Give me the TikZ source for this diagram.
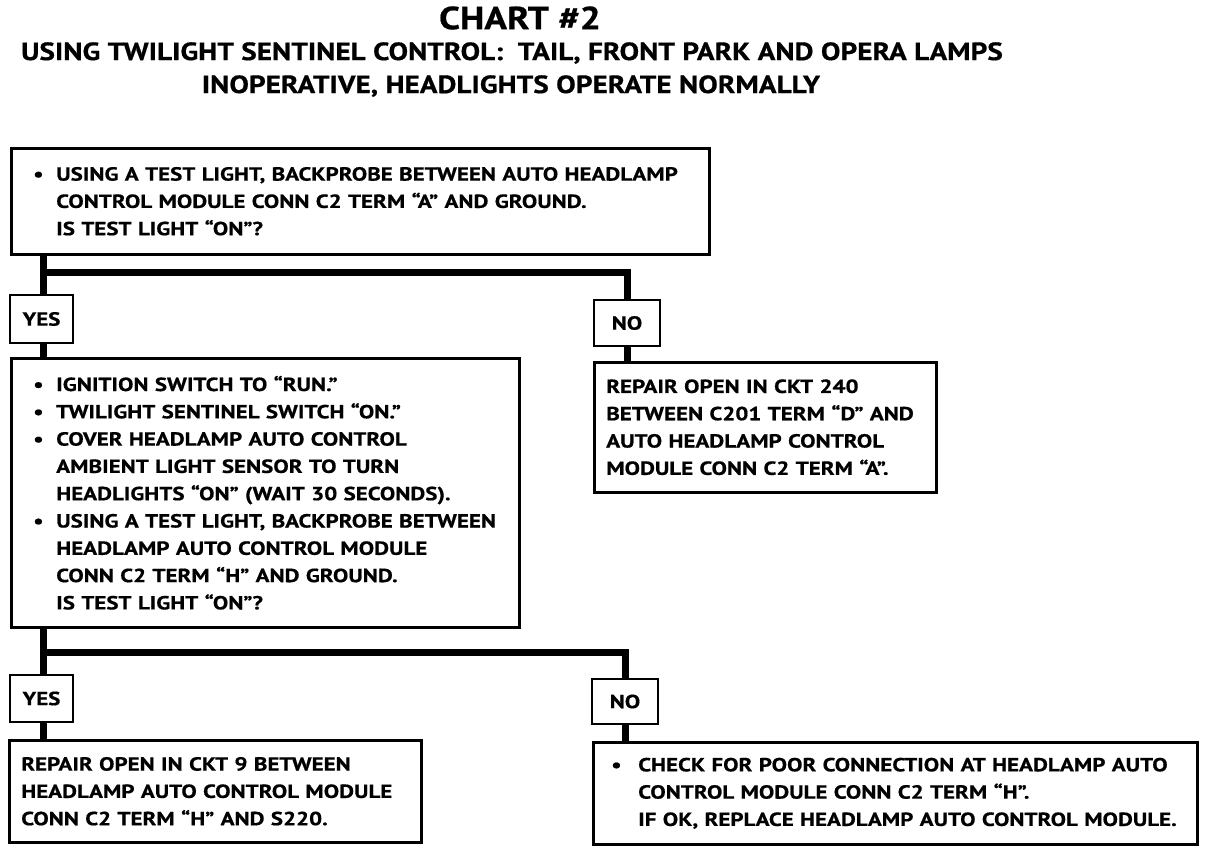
\documentclass[tikz,border=0pt]{standalone}
\usepackage{fontspec}
\setmainfont{PT Sans}
\newfontfamily\bodyfont[Ligatures=TeX,FakeStretch=1.21,FakeBold=0.6]{PT Sans}
\newfontfamily\titlefont[Ligatures=TeX,FakeStretch=1.17,FakeBold=0.6]{PT Sans}
\begin{document}
\begin{tikzpicture}[x=1pt,y=-1pt,
  box/.style={draw, line width=2.5pt, anchor=north west, inner ysep=0pt, align=left,
    font=\bodyfont\bfseries\fontsize{19}{27.3}\selectfont},
  lbl/.style={draw, line width=2.5pt, inner sep=0pt, font=\bodyfont\bfseries\fontsize{19}{22}\selectfont},
  conn/.style={line width=7pt},
  ttl/.style={font=\titlefont\bfseries\fontsize{25}{30}\selectfont}]
\useasboundingbox (0,0) rectangle (1216,852);
\newcommand{\bul}{\makebox[23pt][l]{\textbullet}}
\newcommand{\ind}{\hspace*{23pt}}
% titles
\node[ttl, font=\titlefont\bfseries\fontsize{32}{36}\selectfont] (t1) at (520,18) {CHART \#2};
\node[ttl] (t2) at (512,53) {USING TWILIGHT SENTINEL CONTROL:\ \ TAIL, FRONT PARK AND OPERA LAMPS};
\node[ttl] (t3) at (511,86) {INOPERATIVE, HEADLIGHTS OPERATE NORMALLY};
% boxes
\node[box, minimum width=698pt, minimum height=106pt, inner xsep=22pt, text width=654pt] (b1) at (10,147)
 {\bul USING A TEST LIGHT, BACKPROBE BETWEEN AUTO HEADLAMP\\
  \ind CONTROL MODULE CONN C2 TERM ``A'' AND GROUND.\\
  \ind IS TEST LIGHT ``ON''?};
\node[lbl, minimum width=63pt, minimum height=48pt] (y1) at (41.5,319) {YES};
\node[lbl, minimum width=66pt, minimum height=46pt] (n1) at (627,323) {NO};
\node[box, minimum width=508pt, minimum height=269pt, inner xsep=22pt, text width=464pt] (b2) at (10,357)
 {\bul IGNITION SWITCH TO ``RUN.''\\
  \bul TWILIGHT SENTINEL SWITCH ``ON.''\\
  \bul COVER HEADLAMP AUTO CONTROL\\
  \ind AMBIENT LIGHT SENSOR TO TURN\\
  \ind HEADLIGHTS ``ON'' (WAIT 30 SECONDS).\\
  \bul USING A TEST LIGHT, BACKPROBE BETWEEN\\
  \ind HEADLAMP AUTO CONTROL MODULE\\
  \ind CONN C2 TERM ``H'' AND GROUND.\\
  \ind IS TEST LIGHT ``ON''?};
\node[box, minimum width=342pt, minimum height=130pt, inner xsep=12pt, text width=318pt] (b3) at (593,361)
 {REPAIR OPEN IN CKT 240\\
  BETWEEN C201 TERM ``D'' AND\\
  AUTO HEADLAMP CONTROL\\
  MODULE CONN C2 TERM ``A''.};
\node[lbl, minimum width=63pt, minimum height=47pt] (y2) at (41.5,698.5) {YES};
\node[lbl, minimum width=66pt, minimum height=45pt] (n2) at (625,701.5) {NO};
\node[box, minimum width=412pt, minimum height=102pt, inner xsep=12pt, text width=388pt] (b4) at (8,739)
 {REPAIR OPEN IN CKT 9 BETWEEN\\
  HEADLAMP AUTO CONTROL MODULE\\
  CONN C2 TERM ``H'' AND S220.};
\node[box, minimum width=604pt, minimum height=102pt, inner xsep=18pt, text width=568pt] (b5) at (592,741)
 {\makebox[27pt][l]{\textbullet}CHECK FOR POOR CONNECTION AT HEADLAMP AUTO\\
  \hspace*{27pt}CONTROL MODULE CONN C2 TERM ``H''.\\
  \hspace*{27pt}IF OK, REPLACE HEADLAMP AUTO CONTROL MODULE.};
% connectors
\coordinate (j1) at (43,272);
\coordinate (j2) at (43,652);
\draw[conn] (b1.south -| j1) -- (y1.north -| j1);
\draw[conn] ([xshift=-3.5pt]j1) -| (n1.north);
\draw[conn] (y1.south -| j1) -- (b2.north -| j1);
\draw[conn] (n1.south) -- (n1.south |- b3.north);
\draw[conn] (b2.south -| j2) -- (y2.north -| j2);
\draw[conn] ([xshift=-3.5pt]j2) -| (n2.north);
\draw[conn] (y2.south -| j2) -- (b4.north -| j2);
\draw[conn] (n2.south) -- (n2.south |- b5.north);
\end{tikzpicture}
\end{document}
